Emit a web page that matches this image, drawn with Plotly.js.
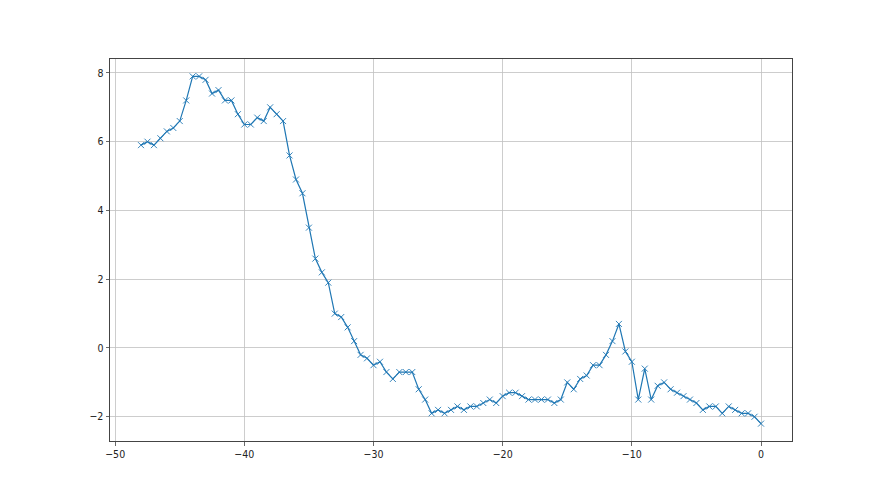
<!DOCTYPE html>
<html>
<head>
<meta charset="utf-8">
<script src="https://cdn.plot.ly/plotly-3.0.1.min.js"></script>
<style>html,body{margin:0;padding:0;background:#fff;}#chart{width:880px;height:495px;}</style>
</head>
<body>
<div id="chart"></div>
<script>
// x positions: every 0.5 from -48 to 0
const xStart = -48;
const xStep = 0.5;
const yValues = [
  5.9, 6.0, 5.9, 6.1, 6.3, 6.4, 6.6, 7.2, 7.9, 7.9,
  7.8, 7.4, 7.5, 7.2, 7.2, 6.8, 6.5, 6.5, 6.7, 6.6,
  7.0, 6.8, 6.6, 5.6, 4.9, 4.5, 3.5, 2.6, 2.2, 1.9,
  1.0, 0.9, 0.6, 0.2, -0.2, -0.3, -0.5, -0.4, -0.7, -0.9,
  -0.7, -0.7, -0.7, -1.2, -1.5, -1.9, -1.8, -1.9, -1.8, -1.7,
  -1.8, -1.7, -1.7, -1.6, -1.5, -1.6, -1.4, -1.3, -1.3, -1.4,
  -1.5, -1.5, -1.5, -1.5, -1.6, -1.5, -1.0, -1.2, -0.9, -0.8,
  -0.5, -0.5, -0.2, 0.2, 0.7, -0.1, -0.4, -1.5, -0.6, -1.5,
  -1.1, -1.0, -1.2, -1.3, -1.4, -1.5, -1.6, -1.8, -1.7, -1.7,
  -1.9, -1.7, -1.8, -1.9, -1.9, -2.0, -2.2
];
const xValues = yValues.map((_, i) => xStart + i * xStep);
const xTicks = [-50, -40, -30, -20, -10, 0];
const yTicks = [-2, 0, 2, 4, 6, 8];

const trace = {
  x: xValues,
  y: yValues,
  type: 'scatter',
  mode: 'lines+markers',
  line: {color: '#1f77b4', width: 1.2},
  marker: {symbol: 'x-thin', size: 6, color: '#1f77b4', line: {color: '#1f77b4', width: 0.9}},
  hoverinfo: 'x+y'
};

const axisCommon = {
  showgrid: true,
  gridcolor: '#c0c0c0',
  gridwidth: 0.8,
  zeroline: false,
  showline: true,
  mirror: true,
  linecolor: '#444444',
  linewidth: 1,
  ticks: 'outside',
  ticklen: 3.5,
  tickwidth: 0.8,
  tickcolor: '#444444',
  tickfont: {family: 'Liberation Sans Narrow, DejaVu Sans Condensed, sans-serif', size: 10.5, color: '#222222'}
};

const layout = {
  width: 880,
  height: 495,
  margin: {l: 110, r: 88, t: 59, b: 54},
  paper_bgcolor: '#ffffff',
  plot_bgcolor: '#ffffff',
  showlegend: false,
  xaxis: Object.assign({}, axisCommon, {
    range: [-50.4, 2.4],
    tickmode: 'array',
    tickvals: xTicks,
    ticktext: xTicks.map(v => v < 0 ? '\u2212' + Math.abs(v) : String(v))
  }),
  yaxis: Object.assign({}, axisCommon, {
    range: [-2.705, 8.405],
    tickmode: 'array',
    tickvals: yTicks,
    ticktext: yTicks.map(v => v < 0 ? '\u2212' + Math.abs(v) : String(v))
  })
};

Plotly.newPlot('chart', [trace], layout, {displayModeBar: false, staticPlot: true});
</script>
</body>
</html>
